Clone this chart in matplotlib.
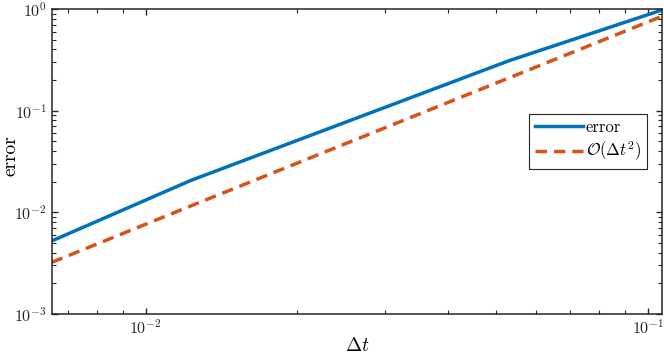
import matplotlib
matplotlib.use("Agg")
import matplotlib.pyplot as plt
import numpy as np

# step sizes and errors
dt = [0.0065, 0.0123, 0.053, 0.107]
err = [0.0052, 0.0205, 0.31, 0.98]
ref = [0.0032, 0.0115, 0.21, 0.85]

plt.rcParams['font.family'] = 'serif'
plt.rcParams['font.serif'] = ['cmr10']
plt.rcParams['mathtext.fontset'] = 'cm'
plt.rcParams['axes.formatter.use_mathtext'] = True

fig = plt.figure(figsize=(6.64, 3.54), dpi=100)
ax = fig.add_axes([0.0779, 0.1139, 0.9196, 0.8607])

ax.loglog(dt, err, color='#0072BD', lw=2.5, label='error')
ax.loglog(dt, ref, color='#D95319', lw=2.5, ls=(0, (3.3, 2.0)), label=r'$\mathcal{O}(\Delta t^2)$')

ax.set_xlim(dt[0], dt[-1])
ax.set_ylim(1e-3, 1)

ax.set_xlabel(r'$\Delta t$', fontsize=14)
ax.set_ylabel('error', fontsize=14)
ax.xaxis.set_label_coords(0.5, -0.078)
ax.yaxis.set_label_coords(-0.053, 0.52)

dark = '#262626'
for s in ax.spines.values():
    s.set_color(dark)
    s.set_linewidth(1.1)
ax.tick_params(which='both', direction='in', top=True, right=True, colors=dark, labelsize=11.5)
ax.tick_params(which='major', length=4.5, width=1.0)
ax.tick_params(which='minor', length=2.8, width=0.8)

leg = ax.legend(loc='upper right', bbox_to_anchor=(0.975, 0.656), borderaxespad=0,
                fontsize=12, handlelength=2.9, handletextpad=0.15, fancybox=False,
                framealpha=1, edgecolor='#262626', borderpad=0.35, labelspacing=0.3)
leg.get_frame().set_linewidth(0.8)

fig.savefig('out.png', dpi=100)
